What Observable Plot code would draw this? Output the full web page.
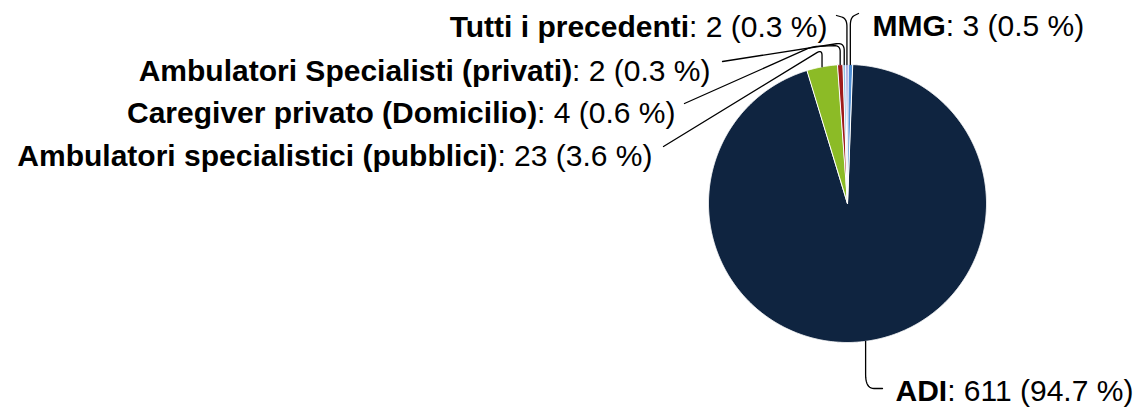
<!DOCTYPE html>
<html>
<head>
<meta charset="utf-8">
<script src="https://cdn.jsdelivr.net/npm/d3@7"></script>
<script src="https://cdn.jsdelivr.net/npm/@observablehq/plot@0.6"></script>
<style>
  html, body { margin: 0; padding: 0; background: #fff; }
  #chart svg { display: block; }
</style>
</head>
<body>
<div id="chart"></div>
<script>
// ---- data ----
const names = ["ADI", "Ambulatori specialistici (pubblici)", "Caregiver privato (Domicilio)", "Ambulatori Specialisti (privati)", "Tutti i precedenti", "MMG"];
const counts = [611, 23, 4, 2, 2, 3];
const colors = ["#0f2440", "#8cbb26", "#9e1b1b", "#8fc1e3", "#a7a3dc", "#4f8fd6"];

// ---- layout (label anchors & leader routes, in pixels) ----
const W = 1137, H = 409;
const cx = 847, cy = 203, R = 139;
const startDeg = 2;
const FONT = "'Liberation Sans', Arial, sans-serif";
const FS = 30;
const layout = [
  {side: "start", x: 895, y: 400, via: [[null, 388]], end: [882, 388], r: 14},
  {side: "end",   x: 652, y: 165, via: [[null, 49]], end: [663, 146], r: 6},
  {side: "end",   x: 675, y: 122, via: [[null, 45], [812, 46]], end: [684, 103], r: 6},
  {side: "end",   x: 710, y: 80,  via: [[null, 42]], end: [722, 61], r: 8},
  {side: "end",   x: 827, y: 36,  via: [[null, 18]], end: [836, 15], r: 8},
  {side: "start", x: 872, y: 35,  via: [[null, 17]], end: [858, 13], r: 8}
];

const total = d3.sum(counts);
const arcs = d3.pie().sort(null)
  .startAngle(startDeg * Math.PI / 180)
  .endAngle(startDeg * Math.PI / 180 + 2 * Math.PI)(counts);

const pt = (a, r) => [cx + r * Math.sin(a), cy - r * Math.cos(a)];

// slices as closed polygons
const slicePts = [];
arcs.forEach((a, i) => {
  slicePts.push({name: names[i], color: colors[i], x: cx, y: cy});
  const n = Math.max(2, Math.ceil((a.endAngle - a.startAngle) / (0.25 * Math.PI / 180)));
  for (let k = 0; k <= n; k++) {
    const t = a.startAngle + (a.endAngle - a.startAngle) * k / n;
    const [x, y] = pt(t, R);
    slicePts.push({name: names[i], color: colors[i], x, y});
  }
});

// leaders with rounded corners
function rounded(points, r) {
  const out = [points[0]];
  for (let i = 1; i < points.length - 1; i++) {
    const p0 = points[i - 1], p1 = points[i], p2 = points[i + 1];
    const d0 = Math.hypot(p0[0] - p1[0], p0[1] - p1[1]) || 1;
    const d2 = Math.hypot(p2[0] - p1[0], p2[1] - p1[1]) || 1;
    const rr0 = Math.min(r, d0 / 2), rr2 = Math.min(r, d2 / 2);
    const a = [p1[0] + (p0[0] - p1[0]) * rr0 / d0, p1[1] + (p0[1] - p1[1]) * rr0 / d0];
    const b = [p1[0] + (p2[0] - p1[0]) * rr2 / d2, p1[1] + (p2[1] - p1[1]) * rr2 / d2];
    for (let k = 0; k <= 10; k++) {
      const t = k / 10;
      out.push([
        (1 - t) * (1 - t) * a[0] + 2 * (1 - t) * t * p1[0] + t * t * b[0],
        (1 - t) * (1 - t) * a[1] + 2 * (1 - t) * t * p1[1] + t * t * b[1]
      ]);
    }
  }
  out.push(points[points.length - 1]);
  return out;
}
const leaderPts = [];
arcs.forEach((a, i) => {
  const L = layout[i];
  const mid = (a.startAngle + a.endAngle) / 2;
  const e = pt(mid, R);
  const route = [e, ...L.via.map(([x, y]) => [x == null ? e[0] : x, y]), L.end];
  rounded(route, L.r).forEach(([x, y]) => leaderPts.push({name: names[i], x, y}));
});

// labels: bold name + regular value
const ctx = document.createElement("canvas").getContext("2d");
function tw(s, bold) { ctx.font = (bold ? "bold " : "") + FS + "px " + FONT; return ctx.measureText(s).width; }
const nameLabels = [], valueLabels = [];
arcs.forEach((a, i) => {
  const L = layout[i];
  const v = `: ${counts[i]} (${(counts[i] / total * 100).toFixed(1)} %)`;
  const wn = tw(names[i], true), wv = tw(v, false);
  const x0 = L.side === "start" ? L.x : L.x - wn - wv;
  nameLabels.push({x: x0, y: L.y, text: names[i]});
  valueLabels.push({x: x0 + wn, y: L.y, text: v});
});

const chart = Plot.plot({
  width: W, height: H, margin: 0,
  x: {domain: [0, W], range: [0, W], axis: null},
  y: {domain: [0, H], range: [0, H], axis: null},
  color: {type: "identity"},
  style: {background: "#fff", fontFamily: FONT},
  marks: [
    Plot.line(slicePts, {x: "x", y: "y", z: "name", fill: "color", stroke: "#fff", strokeWidth: 1, curve: "linear-closed"}),
    Plot.line(leaderPts, {x: "x", y: "y", z: "name", stroke: "#000", strokeWidth: 1.3, curve: "linear"}),
    Plot.text(nameLabels, {x: "x", y: "y", text: "text", textAnchor: "start", lineAnchor: "bottom", fontSize: FS, fontWeight: "bold", fontFamily: FONT, fill: "#000"}),
    Plot.text(valueLabels, {x: "x", y: "y", text: "text", textAnchor: "start", lineAnchor: "bottom", fontSize: FS, fontFamily: FONT, fill: "#000"})
  ]
});
document.getElementById("chart").appendChild(chart);
</script>
</body>
</html>
